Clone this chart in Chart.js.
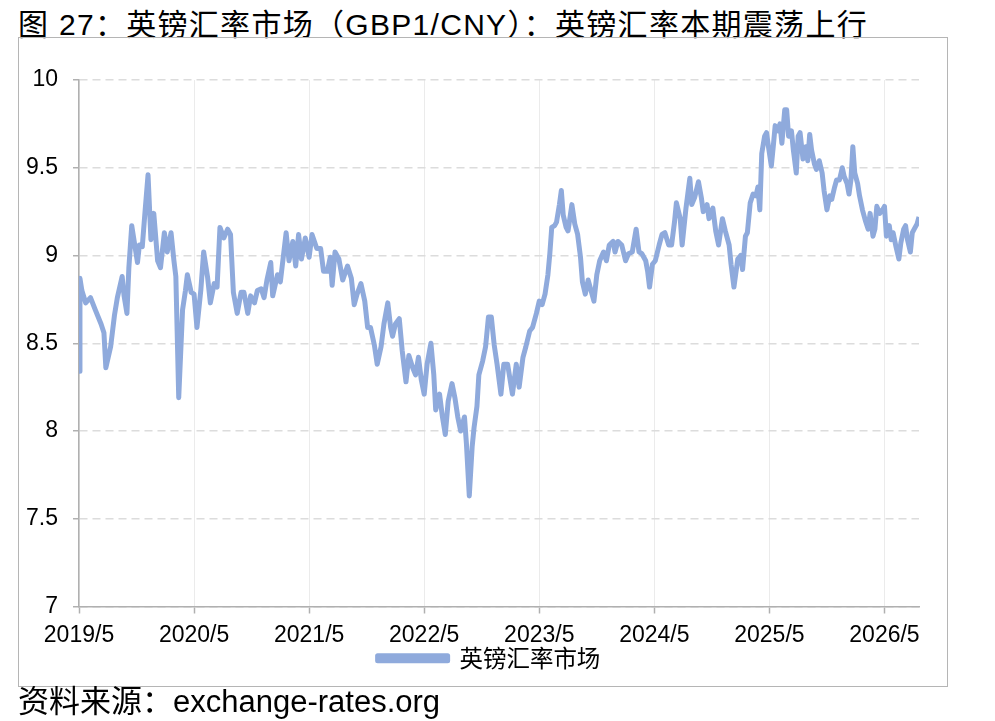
<!DOCTYPE html>
<html>
<head>
<meta charset="utf-8">
<script src="https://cdn.jsdelivr.net/npm/chart.js@4.4.0/dist/chart.umd.min.js"></script>
<style>
  body { margin: 0; background: #fff; width: 995px; height: 721px; position: relative; overflow: hidden; }
  #title { position: absolute; left: 18px; top: 0px; font: 30px "Liberation Sans", "Noto Sans CJK SC", sans-serif; letter-spacing: 1.3px; color: #000; white-space: nowrap; }
  #frame { position: absolute; left: 18px; top: 37px; width: 930px; height: 650px; box-sizing: border-box; border: 1px solid #b5b5b5; }
  #wrap { position: absolute; left: 19px; top: 38px; width: 928px; height: 648px; }
  #source { position: absolute; left: 18px; top: 676px; font: 31px "Liberation Sans", "Noto Sans CJK SC", sans-serif; color: #000; white-space: nowrap; }
</style>
</head>
<body>
<div id="title">图 27：英镑汇率市场（GBP1/CNY）：英镑汇率本期震荡上行</div>
<div id="frame"></div>
<div id="wrap"><canvas id="fxChart" width="928" height="648"></canvas></div>
<div id="source">资料来源：exchange-rates.org</div>
<script>
// months since 2019/5
const months = [
  0.0, 0.1, 0.3, 0.7, 1.2, 1.7, 2.3, 2.6, 2.8, 3.3, 3.7, 4.0, 4.5, 4.7, 5.0, 5.2, 5.5, 5.7, 6.1, 6.3,
  6.6, 6.9, 7.2, 7.5, 7.8, 8.2, 8.5, 8.9, 9.2, 9.6, 9.9, 10.1, 10.4, 10.8, 11.1, 11.3, 11.7, 12.0, 12.3, 12.7,
  13.0, 13.4, 13.7, 14.1, 14.4, 14.7, 15.1, 15.5, 15.8, 16.1, 16.5, 16.9, 17.2, 17.6, 17.9, 18.3, 18.6, 19.0, 19.3, 19.6,
  20.0, 20.2, 20.7, 21.0, 21.6, 21.9, 22.3, 22.6, 22.9, 23.2, 23.6, 24.0, 24.3, 24.8, 25.2, 25.5, 25.9, 26.2, 26.4, 26.7,
  27.1, 27.5, 28.0, 28.4, 28.7, 29.0, 29.4, 29.8, 30.1, 30.4, 30.8, 31.1, 31.5, 31.8, 32.2, 32.5, 32.7, 33.0, 33.4, 33.7,
  34.1, 34.4, 34.8, 35.1, 35.4, 35.7, 36.0, 36.3, 36.7, 37.0, 37.2, 37.6, 37.9, 38.2, 38.5, 38.9, 39.2, 39.5, 39.8, 40.2,
  40.4, 40.7, 41.0, 41.2, 41.5, 41.7, 42.1, 42.4, 42.7, 43.0, 43.3, 43.6, 44.0, 44.3, 44.7, 45.2, 45.6, 45.9, 46.3, 46.6,
  47.0, 47.3, 47.7, 48.0, 48.3, 48.6, 48.9, 49.1, 49.3, 49.6, 49.8, 50.1, 50.3, 50.5, 50.8, 51.0, 51.4, 51.7, 52.0, 52.3,
  52.5, 52.8, 53.1, 53.4, 53.7, 54.0, 54.3, 54.7, 55.0, 55.3, 55.7, 55.9, 56.2, 56.6, 57.0, 57.3, 57.7, 58.1, 58.4, 58.7,
  59.1, 59.3, 59.5, 59.8, 60.1, 60.5, 60.8, 61.1, 61.5, 61.8, 62.1, 62.3, 62.7, 62.9, 63.3, 63.7, 63.9, 64.2, 64.6, 64.9,
  65.1, 65.5, 65.7, 66.1, 66.4, 66.7, 67.1, 67.4, 67.8, 68.0, 68.3, 68.7, 69.0, 69.2, 69.5, 69.7, 70.0, 70.3, 70.6, 70.8,
  71.0, 71.2, 71.5, 71.7, 71.9, 72.2, 72.4, 72.6, 72.9, 73.1, 73.3, 73.6, 73.8, 74.0, 74.3, 74.5, 74.8, 75.0, 75.2, 75.5,
  75.8, 76.0, 76.2, 76.4, 76.7, 76.9, 77.2, 77.5, 77.7, 78.0, 78.3, 78.5, 78.8, 79.0, 79.3, 79.6, 79.8, 80.1, 80.3, 80.5,
  80.7, 80.9, 81.2, 81.4, 81.7, 82.0, 82.3, 82.5, 82.8, 83.0, 83.2, 83.5, 83.8, 84.0, 84.2, 84.5, 84.7, 84.9, 85.2, 85.5,
  85.7, 86.0, 86.2, 86.4, 86.7, 86.9, 87.1, 87.4, 87.6
];

// GBP1/CNY
const rates = [
  8.34, 8.87, 8.80, 8.73, 8.76, 8.69, 8.61, 8.56, 8.36, 8.48, 8.66, 8.76, 8.88, 8.77, 8.67, 8.93, 9.17, 9.10, 8.96, 9.06,
  9.05, 9.26, 9.46, 9.09, 9.24, 8.97, 8.93, 9.13, 9.02, 9.13, 8.97, 8.88, 8.19, 8.69, 8.80, 8.89, 8.79, 8.78, 8.59, 8.80,
  9.02, 8.88, 8.73, 8.84, 8.82, 9.16, 9.10, 9.15, 9.12, 8.79, 8.67, 8.79, 8.79, 8.67, 8.77, 8.73, 8.80, 8.81, 8.76, 8.86,
  8.96, 8.77, 8.89, 8.85, 9.13, 8.97, 9.08, 8.94, 9.12, 8.98, 9.10, 8.99, 9.12, 9.04, 9.04, 8.91, 8.91, 8.99, 8.83, 9.02,
  8.98, 8.86, 8.94, 8.87, 8.72, 8.78, 8.84, 8.74, 8.59, 8.59, 8.49, 8.38, 8.48, 8.61, 8.73, 8.59, 8.54, 8.61, 8.64, 8.46,
  8.28, 8.43, 8.36, 8.32, 8.42, 8.29, 8.21, 8.38, 8.50, 8.32, 8.12, 8.21, 8.08, 7.98, 8.17, 8.27, 8.19, 8.08, 8.00, 8.08,
  7.93, 7.63, 7.91, 8.02, 8.14, 8.32, 8.40, 8.48, 8.65, 8.65, 8.49, 8.38, 8.21, 8.38, 8.38, 8.21, 8.38, 8.25, 8.42, 8.48,
  8.57, 8.59, 8.67, 8.74, 8.72, 8.78, 8.89, 9.01, 9.16, 9.17, 9.19, 9.29, 9.37, 9.23, 9.16, 9.14, 9.29, 9.18, 9.12, 8.99,
  8.85, 8.78, 8.86, 8.80, 8.74, 8.89, 8.97, 9.02, 8.97, 9.06, 9.08, 9.02, 9.08, 9.06, 8.97, 9.01, 9.02, 9.15, 9.02, 9.01,
  8.97, 8.91, 8.82, 8.95, 8.97, 9.06, 9.12, 9.13, 9.06, 9.06, 9.19, 9.30, 9.21, 9.06, 9.27, 9.44, 9.29, 9.33, 9.42, 9.33,
  9.25, 9.29, 9.21, 9.27, 9.14, 9.06, 9.21, 9.14, 9.06, 8.95, 8.82, 8.98, 9.00, 8.92, 9.11, 9.13, 9.30, 9.35, 9.34, 9.39,
  9.26, 9.58, 9.68, 9.70, 9.62, 9.51, 9.62, 9.74, 9.71, 9.75, 9.64, 9.83, 9.83, 9.68, 9.71, 9.60, 9.47, 9.68, 9.70, 9.55,
  9.62, 9.54, 9.69, 9.60, 9.52, 9.49, 9.54, 9.47, 9.37, 9.26, 9.34, 9.32, 9.39, 9.43, 9.43, 9.50, 9.45, 9.41, 9.35, 9.43,
  9.62, 9.47, 9.41, 9.34, 9.26, 9.20, 9.15, 9.24, 9.11, 9.15, 9.28, 9.24, 9.26, 9.28, 9.11, 9.17, 9.09, 9.13, 9.05, 8.98,
  9.07, 9.15, 9.17, 9.09, 9.02, 9.13, 9.15, 9.18, 9.22
];

const tickLabels = ['2019/5', '2020/5', '2021/5', '2022/5', '2023/5', '2024/5', '2025/5', '2026/5'];
const seriesName = '英镑汇率市场';

const points = months.map((m, i) => ({ x: m, y: rates[i] }));

const axisGray = '#b0b0b0';
const tickFont = { family: '"Liberation Sans", Arial, sans-serif', size: 23 };

// the legend row in the picture sits a little right of centre
const legendShift = {
    id: 'legendShift',
    afterLayout(chart) {
        chart.legend.left += 20;
        chart.legend.right += 20;
    }
};

new Chart(document.getElementById('fxChart'), {
    type: 'line',
    data: {
        datasets: [{
            label: seriesName,
            data: points,
            borderColor: '#8faadc',
            backgroundColor: '#8faadc',
            borderWidth: 5,
            pointRadius: 0,
            tension: 0,
            borderJoinStyle: 'round'
        }]
    },
    options: {
        responsive: false,
        animation: false,
        layout: { padding: { left: 0, right: 28, top: 42, bottom: 6 } },
        plugins: {
            legend: {
                position: 'bottom',
                labels: {
                    boxWidth: 70,
                    boxHeight: 5,
                    padding: 0,
                    color: '#000',
                    font: { family: '"Noto Sans CJK SC", sans-serif', size: 23.5 }
                }
            },
            tooltip: { enabled: false }
        },
        scales: {
            x: {
                type: 'linear',
                min: 0,
                max: months[months.length - 1],
                afterFit: scale => { scale.height = 40; },
                afterBuildTicks: scale => {
                    scale.ticks = tickLabels.map((_, i) => ({ value: i * 12 }));
                },
                ticks: {
                    autoSkip: false,
                    maxRotation: 0,
                    padding: 8,
                    color: '#000',
                    font: tickFont,
                    callback: value => tickLabels[Math.round(value / 12)]
                },
                grid: {
                    color: '#ebebeb',
                    lineWidth: 1,
                    tickColor: axisGray,
                    tickLength: 7,
                    tickWidth: 1.5
                },
                border: { color: axisGray, width: 1.5 }
            },
            y: {
                min: 7,
                max: 10,
                afterFit: scale => { scale.width = 60; },
                ticks: {
                    stepSize: 0.5,
                    padding: 15,
                    color: '#000',
                    font: tickFont,
                    callback: value => String(Math.round(value * 10) / 10)
                },
                grid: {
                    color: '#dcdcdc',
                    lineWidth: 1.5,
                    tickColor: axisGray,
                    tickLength: 6,
                    tickWidth: 1.5,
                    tickBorderDash: []
                },
                border: { color: axisGray, width: 1.5, dash: [8, 5] }
            }
        }
    },
    plugins: [legendShift]
});
</script>
</body>
</html>
